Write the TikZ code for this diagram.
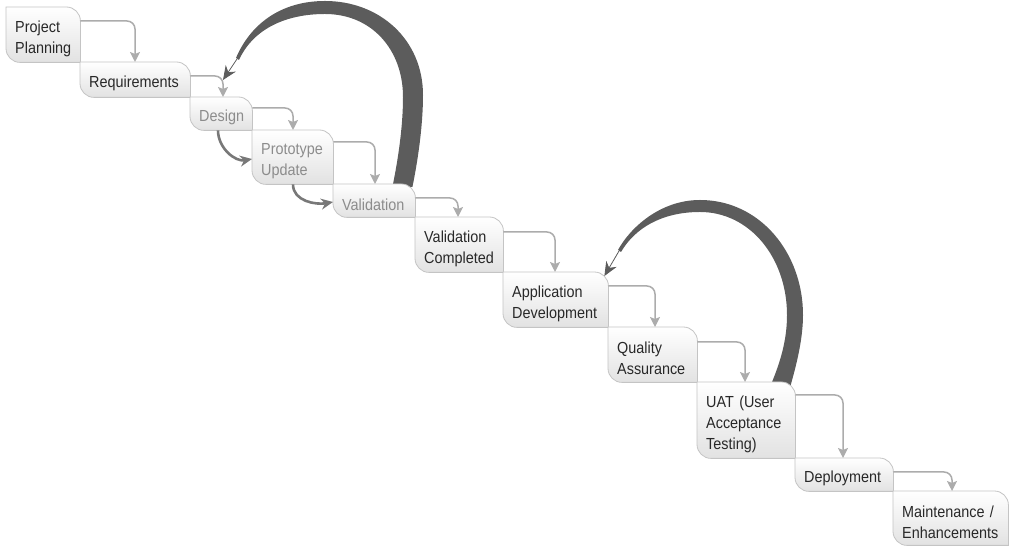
\documentclass[tikz,border=0pt]{standalone}
\usepackage{fontspec}
\setmainfont[FakeStretch=0.9]{Liberation Sans}
\usepackage{tikz}
\usetikzlibrary{positioning}
\usetikzlibrary{arrows.meta}
\usetikzlibrary{backgrounds}

\definecolor{boxedge}{RGB}{196,196,196}
\definecolor{boxbottom}{RGB}{226,226,226}
\definecolor{flowgray}{RGB}{172,172,172}
\definecolor{arcgray}{RGB}{92,92,92}
\definecolor{shortgray}{RGB}{120,120,120}
\definecolor{txtdark}{RGB}{40,40,40}
\definecolor{txtlight}{RGB}{140,140,140}

\tikzset{
  stage/.style={anchor=north west, inner xsep=9pt, inner ysep=0pt, align=left,
    font=\fontsize{16}{21}\selectfont, text=txtdark,
    execute at begin node={\rule{0pt}{19pt}}},
  faded/.style={text=txtlight},
  flow/.style={draw=flowgray, line width=1.5pt, rounded corners=8pt,
    -{Stealth[length=10pt,width=10pt,inset=2pt]}},
  shortcut/.style={draw=shortgray, line width=2.6pt, -{Stealth[length=12pt,width=11pt]}},
  loopband/.style={fill=arcgray},
  loophead/.style={draw=arcgray, line width=0.8pt, -{Stealth[length=14pt,width=12pt]}}
}

% box with rounded top right and bottom left corners
\newcommand{\stageshape}[1]{%
  \shadedraw[draw=boxedge, line width=0.8pt, top color=white, bottom color=boxbottom]
    (#1.north west) -- ([xshift=-14pt]#1.north east) arc[start angle=90, end angle=0, radius=14pt]
    -- (#1.south east) -- ([xshift=14pt]#1.south west) arc[start angle=270, end angle=180, radius=14pt]
    -- cycle;}

\begin{document}
\begin{tikzpicture}[x=1pt, y=1pt]
  \useasboundingbox (0,0) rectangle (1015,553);

  % Stages
  \node[stage, text width=56pt, minimum height=55pt] (plan) at (6,546) {Project\\Planning};
  \node[stage, text width=92pt, minimum height=35pt] (req) at (80,491) {Requirements};
  \node[stage, faded, text width=44pt, minimum height=33pt] (des) at (190,456) {Design};
  \node[stage, faded, text width=63pt, minimum height=54pt] (proto) at (252,423) {Prototype\\Update};
  \node[stage, faded, text width=64pt, minimum height=33pt] (val) at (333,369) {Validation};
  \node[stage, text width=70pt, minimum height=55pt] (valc) at (415,336) {Validation\\Completed};
  \node[stage, text width=87pt, minimum height=55pt] (app) at (503,281) {Application\\Development};
  \node[stage, text width=71pt, minimum height=55pt] (qa) at (608,226) {Quality\\Assurance};
  \node[stage, text width=80pt, minimum height=76pt] (uat) at (697,171) {UAT (User\\Acceptance\\Testing)};
  \node[stage, text width=80pt, minimum height=33pt] (dep) at (795,95) {Deployment};
  \node[stage, text width=97pt, minimum height=54pt] (mnt) at (893,62) {Maintenance /\\Enhancements};

  \begin{scope}[on background layer]
    % Loop back from Validation to Design
    \fill[loopband] ([xshift=-3pt,yshift=-3pt]val.north east)
      .. controls (418,393) and (423,428) .. (423,458)
      .. controls (423,513) and (380,552) .. (325,552)
      .. controls (280,552) and (250,528) .. (236,495)
      -- (239,493)
      .. controls (252,522) and (283,539) .. (325,539)
      .. controls (372,539) and (403,503) .. (403,456)
      .. controls (403,426) and (398,393) .. ([xshift=-23pt,yshift=-3pt]val.north east)
      -- cycle;
    % Loop back from UAT to Application Development
    \fill[loopband] ([xshift=-5pt,yshift=-4pt]uat.north east)
      .. controls (797,190) and (803,215) .. (803,238)
      .. controls (803,300) and (760,353) .. (700,353)
      .. controls (660,353) and (630,325) .. (618,303)
      -- (621,301)
      .. controls (635,325) and (662,341) .. (700,341)
      .. controls (750,341) and (787,295) .. (787,238)
      .. controls (787,212) and (780,190) .. ([xshift=-25pt,yshift=-4pt]uat.north east)
      -- cycle;
    % Box outlines
    \stageshape{plan}
    \stageshape{req}
    \stageshape{des}
    \stageshape{proto}
    \stageshape{val}
    \stageshape{valc}
    \stageshape{app}
    \stageshape{qa}
    \stageshape{uat}
    \stageshape{dep}
    \stageshape{mnt}
  \end{scope}

  % Arrow heads of the loops
  \draw[loophead] (237,494) -- ([xshift=33pt,yshift=17pt]des.north west);
  \draw[loophead] (619,302) -- ([xshift=-4pt,yshift=-4pt]app.north east);

  % Flow between stages
  \draw[flow] ([yshift=-14pt]plan.north east) -| ([xshift=55pt]req.north west);
  \draw[flow] ([yshift=-14pt]req.north east) -| ([xshift=33pt]des.north west);
  \draw[flow] ([yshift=-11pt]des.north east) -| ([xshift=41pt]proto.north west);
  \draw[flow] ([yshift=-12pt]proto.north east) -| ([xshift=42pt]val.north west);
  \draw[flow] ([yshift=-14pt]val.north east) -| ([xshift=43pt]valc.north west);
  \draw[flow] ([yshift=-15pt]valc.north east) -| ([xshift=52pt]app.north west);
  \draw[flow] ([yshift=-14pt]app.north east) -| ([xshift=47pt]qa.north west);
  \draw[flow] ([yshift=-15pt]qa.north east) -| ([xshift=48pt]uat.north west);
  \draw[flow] ([yshift=-13pt]uat.north east) -| ([xshift=48pt]dep.north west);
  \draw[flow] ([yshift=-14pt]dep.north east) -| ([xshift=59pt]mnt.north west);

  % Shortcuts inside the prototype cycle
  \draw[shortcut] ([xshift=28pt]des.south west) to[out=-90, in=190] ([yshift=-29pt]proto.north west);
  \draw[shortcut] ([xshift=41pt]proto.south west) to[out=-90, in=190] ([yshift=-18pt]val.north west);
\end{tikzpicture}
\end{document}
